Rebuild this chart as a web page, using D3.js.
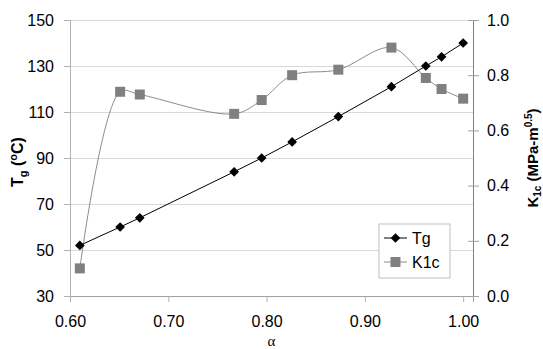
<!DOCTYPE html>
<html>
<head>
<meta charset="utf-8">
<script src="https://cdn.jsdelivr.net/npm/d3@7"></script>
<style>
  body { margin: 0; background: #fff; }
  text { font-family: "Liberation Sans", Arial, sans-serif; fill: #000; }
  .axis text { font-size: 16px; font-family: "Liberation Sans", Arial, sans-serif; }
</style>
</head>
<body>
<div id="chart"></div>
<script>
// data
var alpha = [0.61, 0.651, 0.671, 0.767, 0.795, 0.826, 0.873, 0.927, 0.962, 0.978, 1.00]
var tg = [52, 60, 64, 84, 90, 97, 108, 121, 130, 134, 140]
var k1c = [0.10, 0.74, 0.73, 0.66, 0.71, 0.80, 0.82, 0.90, 0.79, 0.75, 0.715]

var xTicks = [0.60, 0.70, 0.80, 0.90, 1.00]
var tgTicks = [30, 50, 70, 90, 110, 130, 150]
var kTicks = [0.0, 0.2, 0.4, 0.6, 0.8, 1.0]
var seriesNames = ["Tg", "K1c"]

// set the dimensions and margins of the graph
var margin = { top: 20, right: 70, bottom: 53, left: 70 },
  width = 543 - margin.left - margin.right,
  height = 349 - margin.top - margin.bottom;

var svg = d3.select("#chart")
  .append("svg")
  .attr("width", 543)
  .attr("height", 349)
  .append("g")
  .attr("transform", "translate(" + margin.left + "," + margin.top + ")");

// scales
var x = d3.scaleLinear().domain([0.6, 1.01]).range([0, width]);
var y = d3.scaleLinear().domain([30, 150]).range([height, 0]);
var y2 = d3.scaleLinear().domain([0, 1]).range([height, 0]);

// gridlines
svg.append("g")
  .attr("class", "grid")
  .call(d3.axisLeft(y).tickValues(tgTicks).tickSize(-width).tickFormat(""))
  .call(function(g) { g.select(".domain").remove() })
  .selectAll("line")
  .attr("stroke", "#d9d9d9");

// left axis
var yAxis = svg.append("g")
  .attr("class", "axis")
  .call(d3.axisLeft(y).tickValues(tgTicks).tickSize(6).tickPadding(10));
yAxis.select(".domain").attr("stroke", "#b0b0b0");
yAxis.selectAll("line").attr("stroke", "#b0b0b0");

// right axis, ticks cross the line
var yAxis2 = svg.append("g")
  .attr("class", "axis")
  .attr("transform", "translate(" + width + ",0)")
  .call(d3.axisRight(y2).tickValues(kTicks).tickSize(6).tickPadding(8)
    .tickFormat(d3.format(".1f")));
yAxis2.select(".domain").attr("stroke", "#808080");
yAxis2.selectAll(".tick line").attr("x1", -5).attr("stroke", "#a0a0a0");

// bottom axis
var xAxis = svg.append("g")
  .attr("class", "axis")
  .attr("transform", "translate(0," + height + ")")
  .call(d3.axisBottom(x).tickValues(xTicks).tickSize(6).tickPadding(14)
    .tickFormat(d3.format(".2f")));
xAxis.select(".domain").attr("stroke", "#a0a0a0");
xAxis.selectAll("line").attr("stroke", "#b0b0b0");

// axis labels
svg.append("text")
  .attr("text-anchor", "middle")
  .attr("x", width / 2)
  .attr("y", height + 49.5)
  .style("font-family", "'Liberation Serif', 'Times New Roman', serif")
  .style("font-size", "15px")
  .text("α");

var tl = svg.append("text")
  .attr("text-anchor", "middle")
  .attr("transform", "translate(" + (23 - margin.left) + "," + (162 - margin.top) + ")rotate(-90)")
  .style("font-size", "16px")
  .style("font-weight", "bold");
tl.append("tspan").text("T");
tl.append("tspan").attr("dy", 4).style("font-size", "11px").text("g");
tl.append("tspan").attr("dy", -4).text(" (");
tl.append("tspan").attr("dy", -6).style("font-size", "11px").text("o");
tl.append("tspan").attr("dy", 6).text("C)");

var tr = svg.append("text")
  .attr("text-anchor", "middle")
  .attr("transform", "translate(" + (538 - margin.left) + "," + (158 - margin.top) + ")rotate(-90)")
  .style("font-size", "15px")
  .style("font-weight", "bold");
tr.append("tspan").text("K");
tr.append("tspan").attr("dy", 3).style("font-size", "10px").text("1c");
tr.append("tspan").attr("dy", -3).text(" (MPa-m");
tr.append("tspan").attr("dy", -6).style("font-size", "10px").text("0.5");
tr.append("tspan").attr("dy", 6).text(")");

// K1c smoothed line and squares
var kData = alpha.map(function(a, i) { return { a: a, v: k1c[i] } });
var tData = alpha.map(function(a, i) { return { a: a, v: tg[i] } });

svg.append("path")
  .datum(kData)
  .attr("fill", "none")
  .attr("stroke", "#8c8c8c")
  .attr("stroke-width", 1)
  .attr("d", d3.line()
    .x(function(d) { return x(d.a) })
    .y(function(d) { return y2(d.v) })
    .curve(d3.curveCatmullRom.alpha(0.5)));

svg.append("path")
  .datum(tData)
  .attr("fill", "none")
  .attr("stroke", "#000")
  .attr("stroke-width", 1)
  .attr("d", d3.line()
    .x(function(d) { return x(d.a) })
    .y(function(d) { return y(d.v) }));

svg.append("g")
  .selectAll("rect")
  .data(kData)
  .enter()
  .append("rect")
  .attr("x", function(d) { return x(d.a) - 5 })
  .attr("y", function(d) { return y2(d.v) - 5 })
  .attr("width", 10)
  .attr("height", 10)
  .attr("fill", "#808080");

var diamond = d3.symbol().type(d3.symbolDiamond2).size(60);
svg.append("g")
  .selectAll("path")
  .data(tData)
  .enter()
  .append("path")
  .attr("d", diamond)
  .attr("transform", function(d) { return "translate(" + x(d.a) + "," + y(d.v) + ")" })
  .attr("fill", "#000");

// legend
var lg = svg.append("g")
  .attr("transform", "translate(" + (379 - margin.left) + "," + (224 - margin.top) + ")");
lg.append("rect")
  .attr("width", 71).attr("height", 54)
  .attr("fill", "#fff").attr("stroke", "#bfbfbf");
seriesNames.forEach(function(name, i) {
  var cy = 14 + i * 24;
  lg.append("line")
    .attr("x1", 5).attr("x2", 28).attr("y1", cy).attr("y2", cy)
    .attr("stroke", i == 0 ? "#000" : "#8c8c8c");
  if (i == 0) {
    lg.append("path").attr("d", diamond)
      .attr("transform", "translate(16.5," + cy + ")").attr("fill", "#000");
  } else {
    lg.append("rect").attr("x", 11.5).attr("y", cy - 5)
      .attr("width", 10).attr("height", 10).attr("fill", "#808080");
  }
  lg.append("text")
    .attr("x", 33).attr("y", cy)
    .attr("dy", "0.35em")
    .style("font-size", "16px")
    .text(name);
});
</script>
</body>
</html>
